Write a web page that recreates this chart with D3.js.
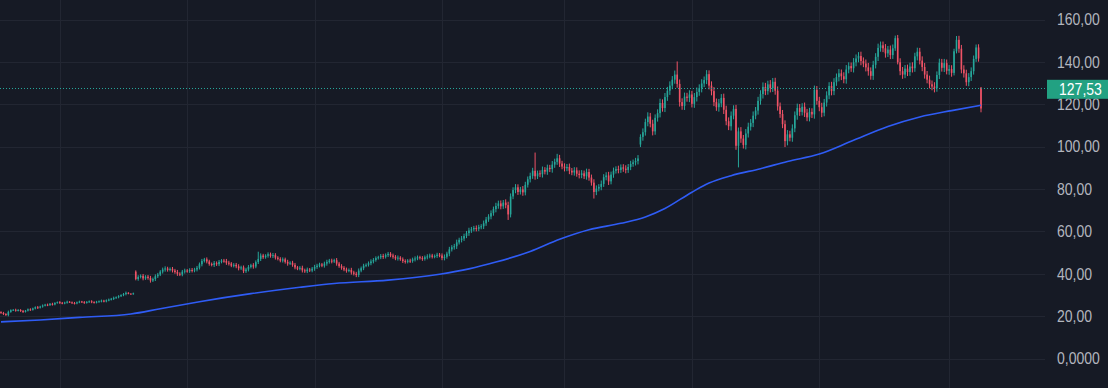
<!DOCTYPE html>
<html>
<head>
<meta charset="utf-8">
<script src="https://cdn.jsdelivr.net/npm/d3@7"></script>
<style>
  html, body { margin: 0; padding: 0; background: #161a25; overflow: hidden; }
  svg { display: block; }
  .axis text { fill: #b2b5be; font-family: "Liberation Sans", Arial, sans-serif; font-size: 16.5px; }
</style>
</head>
<body>
<div id="chart"></div>
<script>
// weekly closes, 20 per row
const closes = [
  21.5, 21.0, 20.5, 22.0, 22.8, 23.0, 22.6, 22.9, 22.4, 22.0, 22.6, 23.2, 23.0, 23.6, 24.2, 24.0, 24.5, 25.0, 25.4, 25.2,
  25.8, 25.5, 26.2, 26.6, 26.3, 26.0, 26.4, 26.8, 26.5, 26.2, 26.0, 26.5, 26.9, 26.6, 26.3, 26.7, 27.0, 26.6, 26.4, 26.8,
  27.0, 27.3, 26.9, 27.5, 27.8, 28.2, 28.6, 28.9, 29.4, 29.9, 30.4, 31.0, 30.6, 30.4, 30.8, 37.5, 38.5, 39.0, 37.8, 38.6,
  38.0, 36.8, 37.5, 38.8, 39.6, 41.0, 42.0, 42.5, 41.8, 42.3, 41.5, 40.8, 40.0, 39.6, 41.0, 41.5, 41.2, 41.8, 41.5, 42.0,
  42.8, 44.5, 46.0, 46.8, 45.8, 44.6, 44.2, 45.0, 44.5, 45.6, 46.2, 46.0, 45.2, 44.8, 43.8, 44.2, 43.5, 42.6, 43.0, 41.2,
  42.0, 43.2, 44.0, 43.4, 45.5, 47.0, 48.6, 47.8, 48.5, 49.2, 48.4, 48.8, 47.6, 47.0, 46.2, 46.8, 45.6, 44.8, 45.2, 44.2,
  43.0, 42.4, 42.8, 41.6, 41.2, 42.0, 41.5, 42.4, 43.2, 43.8, 44.4, 43.8, 44.8, 45.6, 46.2, 45.8, 46.4, 44.8, 43.6, 42.8,
  42.0, 41.4, 41.8, 40.6, 40.0, 39.4, 41.5, 42.6, 43.8, 44.2, 45.0, 45.8, 46.5, 47.4, 47.8, 48.4, 48.0, 48.8, 49.4, 48.6,
  48.0, 47.2, 47.6, 46.8, 46.0, 45.6, 46.2, 46.0, 46.8, 47.2, 47.8, 47.4, 47.0, 47.8, 48.2, 48.6, 48.0, 48.4, 49.0, 48.6,
  47.4, 48.0, 49.5, 51.5, 52.5, 53.0, 54.8, 56.0, 56.6, 57.8, 59.2, 60.4, 61.0, 61.6, 61.2, 62.0, 62.4, 63.8, 65.6, 67.0,
  68.6, 70.5, 72.0, 73.2, 71.8, 73.6, 72.4, 68.0, 76.5, 79.5, 80.8, 78.6, 79.8, 78.4, 82.0, 84.6, 86.2, 88.6, 86.0, 87.4,
  87.0, 89.0, 88.2, 90.0, 89.4, 91.5, 92.8, 94.5, 92.0, 90.6, 89.8, 90.4, 88.6, 87.8, 88.8, 87.2, 86.6, 87.4, 86.0, 88.0,
  85.4, 83.0, 78.6, 80.2, 81.0, 82.4, 85.6, 86.4, 83.6, 86.8, 88.6, 89.4, 89.0, 90.2, 89.6, 89.0, 90.4, 91.8, 92.6, 93.2,
  94.4, 104.6, 106.8, 111.6, 114.2, 110.8, 107.2, 113.6, 115.8, 120.6, 118.2, 123.4, 126.4, 128.8, 131.6, 134.0, 129.6, 121.0, 119.2, 123.6,
  123.0, 124.6, 120.2, 123.4, 125.8, 127.6, 129.8, 131.4, 134.2, 128.8, 126.2, 121.0, 118.6, 120.4, 123.0, 117.4, 112.0, 109.6, 114.6, 117.8,
  100.4, 107.2, 103.8, 100.8, 106.2, 109.4, 111.2, 114.6, 117.0, 121.6, 124.8, 128.2, 126.2, 129.4, 127.6, 130.6, 126.4, 119.0, 115.4, 110.6,
  102.6, 105.8, 104.2, 108.6, 114.8, 118.2, 116.4, 118.8, 116.0, 113.8, 116.4, 115.2, 126.8, 121.6, 118.6, 116.0, 120.8, 124.2, 128.6, 126.2,
  130.4, 132.8, 134.6, 133.2, 131.8, 136.4, 138.0, 137.0, 139.8, 141.6, 142.8, 140.4, 139.2, 137.4, 135.6, 133.4, 138.6, 142.4, 146.6, 147.8,
  146.4, 144.0, 145.8, 143.2, 146.4, 151.2, 139.8, 135.6, 134.0, 136.8, 135.2, 137.8, 137.0, 142.6, 144.8, 140.6, 137.6, 134.0, 131.6, 129.4,
  128.4, 127.6, 133.8, 139.6, 137.2, 139.4, 135.8, 136.6, 134.8, 145.0, 150.4, 146.2, 136.4, 134.6, 130.4, 132.8, 135.6, 141.4, 146.8, 141.6,
  118.0
];

// wick length beyond the body, per candle
const wicks = [
  0.4, 0.5, 0.4, 0.6, 0.4, 0.3, 0.5, 0.4, 0.4, 0.5, 0.3, 0.4, 0.5, 0.4, 0.4, 0.6, 0.4, 0.5, 0.4, 0.5,
  0.4, 0.5, 0.4, 0.3, 0.5, 0.4, 0.4, 0.5, 0.3, 0.4, 0.5, 0.4, 0.4, 0.3, 0.5, 0.4, 0.4, 0.5, 0.4, 0.4,
  0.4, 0.5, 0.4, 0.4, 0.5, 0.4, 0.6, 0.4, 0.5, 0.4, 0.5, 0.6, 0.3, 0.2, 0.3, 0.6, 0.8, 0.7, 0.9, 0.7,
  0.8, 1.0, 0.7, 0.9, 0.8, 0.7, 0.9, 1.0, 0.8, 0.7, 0.9, 0.8, 1.0, 0.7, 0.8, 0.9, 0.7, 0.8, 0.9, 0.8,
  0.9, 0.8, 1.0, 0.7, 0.9, 0.8, 0.7, 1.0, 0.8, 0.9, 0.7, 0.8, 1.0, 0.9, 0.7, 0.8, 0.9, 1.0, 0.8, 0.9,
  0.8, 0.9, 0.7, 1.0, 0.8, 0.9, 1.0, 0.8, 0.7, 0.9, 0.8, 1.0, 0.9, 0.7, 0.8, 0.9, 0.8, 1.0, 0.7, 0.9,
  0.9, 0.7, 0.8, 1.0, 0.8, 0.9, 0.7, 0.8, 1.0, 0.9, 0.8, 0.7, 0.9, 1.0, 0.8, 0.9, 0.7, 1.0, 0.8, 0.9,
  0.8, 0.9, 0.7, 1.0, 0.8, 0.9, 1.0, 0.8, 0.9, 0.7, 0.8, 1.0, 0.9, 0.8, 0.7, 0.9, 1.0, 0.8, 0.9, 0.8,
  0.9, 0.8, 1.0, 0.7, 0.9, 0.8, 0.7, 0.9, 0.8, 1.0, 0.8, 0.7, 0.9, 0.8, 1.0, 0.9, 0.8, 0.7, 0.9, 0.8,
  1.0, 1.1, 0.9, 1.2, 1.0, 1.1, 1.3, 1.0, 1.2, 1.1, 1.0, 1.3, 1.1, 1.0, 1.2, 1.1, 1.0, 1.3, 1.2, 1.1,
  1.3, 1.2, 1.5, 1.3, 1.4, 1.2, 1.5, 1.6, 1.4, 1.3, 1.5, 1.4, 1.2, 1.6, 1.4, 1.3, 1.5, 1.4, 1.6, 1.3,
  1.4, 1.6, 1.3, 1.5, 1.4, 1.7, 1.5, 1.4, 1.6, 1.3, 1.5, 1.4, 1.6, 1.3, 1.5, 1.4, 1.6, 1.5, 1.3, 1.6,
  1.5, 1.4, 1.6, 1.5, 1.3, 1.6, 1.4, 1.5, 1.7, 1.4, 1.5, 1.3, 1.6, 1.4, 1.5, 1.6, 1.4, 1.5, 1.3, 1.5,
  1.6, 1.2, 1.8, 1.6, 2.0, 1.7, 1.9, 1.6, 1.8, 2.0, 1.7, 1.9, 1.8, 2.0, 1.7, 1.9, 1.8, 2.1, 1.8, 1.9,
  1.8, 2.0, 1.7, 1.9, 2.1, 1.8, 2.0, 1.7, 1.9, 1.8, 2.0, 1.9, 1.7, 2.1, 1.8, 2.0, 1.9, 1.8, 2.0, 1.7,
  1.9, 1.8, 2.0, 1.7, 2.1, 1.9, 1.8, 2.0, 1.7, 1.9, 1.8, 2.1, 1.9, 1.7, 2.0, 1.8, 1.9, 2.0, 1.8, 1.9,
  1.8, 2.0, 1.7, 1.9, 1.8, 2.1, 1.9, 1.7, 2.0, 1.8, 1.9, 1.7, 2.0, 1.8, 1.9, 2.1, 1.7, 1.9, 1.8, 2.0,
  1.9, 1.7, 2.0, 1.8, 1.9, 2.1, 1.8, 1.7, 2.0, 1.9, 1.8, 2.0, 1.7, 1.9, 2.1, 1.8, 1.9, 1.7, 2.0, 1.8,
  1.8, 2.0, 1.7, 1.9, 1.8, 1.2, 1.0, 1.9, 2.0, 1.7, 1.9, 1.8, 2.0, 1.7, 1.9, 1.8, 2.0, 1.9, 1.7, 1.9,
  1.8, 2.0, 1.7, 1.9, 1.8, 2.0, 1.7, 1.9, 1.8, 1.2, 1.0, 1.9, 1.8, 2.0, 1.7, 1.9, 1.8, 1.6, 1.4, 1.5,
  0.3
];

// candles whose open does not equal the previous close: [index, open]
const gapOpens = [[0, 21.9], [55, 41.0], [261, 101.0], [400, 127.8]];
// wick extremes: [index, value]
const spikeHighs = [[105, 50.4], [218, 97.2], [227, 96.6], [276, 140.2], [366, 152.7], [390, 152.2]];
const spikeLows = [[145, 38.4], [207, 65.4], [242, 75.5], [301, 90.2], [320, 99.8], [400, 116.2]];

// moving average, sampled at candle indices
const maIdx = [0, 16, 32, 53, 65, 81, 102, 122, 136, 158, 179, 191, 202, 216, 228, 240, 253, 263, 271, 282, 289, 298, 310, 321, 334, 347, 362, 375, 388, 400];
const maVals = [17.3, 18.2, 19.4, 21.0, 23.5, 26.8, 30.6, 33.6, 35.4, 37.0, 39.8, 42.3, 45.5, 50.5, 56.3, 60.8, 63.8, 66.8, 70.8, 78.5, 82.8, 86.3, 89.6, 93.0, 96.5, 102.5, 109.5, 114.0, 117.0, 119.5];

const yTicks = [0, 20, 40, 60, 80, 100, 120, 140, 160];
const yearStartIdx = [24, 76, 128, 180, 230, 282, 334, 387];
const lastPrice = 127.53;

const width = 1108, height = 388;
const plotRight = 1045;
const squeeze = 0.85; // narrow look of the price-scale font
const upColor = "#26a69a", downColor = "#ef5366";

const svg = d3.select("#chart").append("svg")
  .attr("width", width)
  .attr("height", height);

svg.append("rect").attr("width", width).attr("height", height).attr("fill", "#161a25");

const x = d3.scaleLinear().domain([0, closes.length - 1]).range([1, 981]);
const y = d3.scaleLinear().domain([0, 160]).range([358.5, 19.5]);

// grid
const grid = svg.append("g").attr("stroke", "#222632").attr("shape-rendering", "crispEdges");
grid.selectAll("line.h").data(yTicks).join("line")
  .attr("class", "h")
  .attr("x1", 0).attr("x2", plotRight)
  .attr("y1", d => Math.round(y(d)) + 0.5).attr("y2", d => Math.round(y(d)) + 0.5);
grid.selectAll("line.v").data(yearStartIdx).join("line")
  .attr("class", "v")
  .attr("y1", 0).attr("y2", height)
  .attr("x1", d => Math.round(x(d)) + 0.5).attr("x2", d => Math.round(x(d)) + 0.5);

// candles
const gapMap = new Map(gapOpens);
const hiMap = new Map(spikeHighs);
const loMap = new Map(spikeLows);
const candles = closes.map((c, i) => {
  const o = gapMap.has(i) ? gapMap.get(i) : closes[i - 1];
  const hi = hiMap.has(i) ? hiMap.get(i) : Math.max(o, c) + wicks[i];
  const lo = loMap.has(i) ? loMap.get(i) : Math.min(o, c) - wicks[i];
  return {i, o, c, hi, lo};
});

const cg = svg.append("g");
cg.selectAll("line").data(candles).join("line")
  .attr("x1", d => x(d.i)).attr("x2", d => x(d.i))
  .attr("y1", d => y(d.hi)).attr("y2", d => y(d.lo))
  .attr("stroke", d => d.c >= d.o ? upColor : downColor)
  .attr("stroke-width", 1);
cg.selectAll("rect").data(candles).join("rect")
  .attr("x", d => x(d.i) - 0.8)
  .attr("width", 1.6)
  .attr("y", d => y(Math.max(d.o, d.c)))
  .attr("height", d => Math.max(1, Math.abs(y(d.o) - y(d.c))))
  .attr("fill", d => d.c >= d.o ? upColor : downColor);

// moving average
const maLine = d3.line()
  .x(d => x(d[0]))
  .y(d => y(d[1]))
  .curve(d3.curveMonotoneX);
svg.append("path")
  .datum(d3.zip(maIdx, maVals))
  .attr("d", maLine)
  .attr("fill", "none")
  .attr("stroke", "#2f5cf5")
  .attr("stroke-width", 1.6);

// last price line
svg.append("line")
  .attr("x1", 0).attr("x2", plotRight)
  .attr("y1", Math.round(y(lastPrice)) + 0.5).attr("y2", Math.round(y(lastPrice)) + 0.5)
  .attr("stroke", upColor)
  .attr("stroke-dasharray", "1,2");

// price axis
const locale = d3.formatLocale({decimal: ",", thousands: " ", grouping: [3], currency: ["", ""]});
const f2 = locale.format(".2f"), f4 = locale.format(".4f");
const yAxis = d3.axisRight(y)
  .tickValues(yTicks)
  .tickSize(0)
  .tickPadding(12)
  .tickFormat(d => d === 0 ? f4(d) : f2(d));
svg.append("g")
  .attr("class", "axis")
  .attr("transform", `translate(${plotRight},0)`)
  .call(yAxis)
  .call(g => g.select(".domain").remove())
  .call(g => g.selectAll(".tick text")
    .attr("x", 12 / squeeze)
    .attr("transform", `scale(${squeeze},1)`));

// last price label
const py = y(lastPrice);
svg.append("rect")
  .attr("x", 1047).attr("y", py - 8.5)
  .attr("width", width - 1047).attr("height", 19)
  .attr("fill", "#22a182");
svg.append("g")
  .attr("class", "axis")
  .attr("transform", `translate(1059,${py + 1})`)
  .append("text")
  .attr("transform", `scale(${squeeze},1)`)
  .attr("dy", "0.32em")
  .style("fill", "#ffffff")
  .text(f2(lastPrice));
</script>
</body>
</html>
